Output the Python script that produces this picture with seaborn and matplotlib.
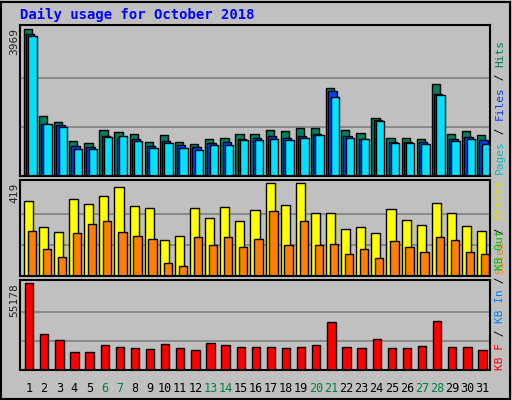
import matplotlib
matplotlib.use("Agg")
import matplotlib.pyplot as plt
import seaborn as sns
import numpy as np

days = list(range(1, 32))
hits = [3969,1636,1475,939,885,1234,1180,1126,912,1100,912,858,992,1019,1126,1126,1234,1207,1287,1287,2387,1234,1153,1582,1019,1019,992,2494,1126,1207,1100]
files = [3850,1420,1390,800,780,1080,1020,1000,800,950,840,780,900,920,1000,1020,1080,1040,1090,1130,2300,1080,1010,1520,930,930,910,2230,1000,1060,970]
pages = [3780,1420,1330,740,720,1050,1080,960,760,890,760,700,830,850,980,980,990,980,1020,1100,2150,1040,1010,1480,880,880,860,2200,960,1010,870]
visits = [336,221,198,345,322,359,400,313,304,161,180,304,262,308,249,295,419,318,419,281,285,212,221,193,299,253,230,327,281,226,203]
sites = [203,120,87,193,235,249,198,180,166,60,46,175,138,175,129,166,290,138,249,138,143,101,120,83,157,129,110,175,161,106,97]
kbytes = [55178,22456,19248,11549,11549,16040,14757,14115,13474,16682,14115,12832,17323,16040,14757,14757,14757,14115,14757,16040,30155,14757,14115,19890,14115,14115,15398,30797,14757,14757,12832]
weekend = [6,7,13,14,20,21,27,28]

sns.set_style("white")
plt.rcParams['font.family'] = ['DejaVu Sans Mono']
BG = '#c0c0c0'
fig = plt.figure(figsize=(5.12, 4.0), dpi=100, facecolor=BG)
W, H = 512, 400
def ax_at(x0, y0, x1, y1):
    return fig.add_axes([x0/W, 1-y1/H, (x1-x0)/W, (y1-y0)/H])

x = np.array(days)
panels = [(25, 176), (180, 276), (280, 370)]
axes = [ax_at(20, a, 490, b) for a, b in panels]
for ax, top in zip(axes, [3969, 419, 55178]):
    ax.set_facecolor(BG)
    ax.set_xlim(0.45, 31.55)
    ax.set_ylim(0, top*1.03)
    for f in (1/3, 2/3):
        ax.axhline(top*f, color='#808080', lw=1.2, zorder=0)
    ax.set_xticks([]); ax.set_yticks([])
    for s in ax.spines.values():
        s.set_color('black'); s.set_linewidth(1.5)

ek = dict(edgecolor='black', linewidth=1)
a1 = axes[0]
a1.bar(x-0.3, hits, 0.55, color='#00805c', align='edge', **ek)
a1.bar(x-0.15, files, 0.55, color='#0040ff', align='edge', **ek)
a1.bar(x, pages, 0.55, color='#00e0ff', align='edge', **ek)
a2 = axes[1]
a2.bar(x-0.3, visits, 0.6, color='#ffff00', align='edge', **ek)
a2.bar(x-0.05, sites, 0.55, color='#ff8000', align='edge', **ek)
a3 = axes[2]
a3.bar(x-0.22, kbytes, 0.55, color='#ff0000', align='edge', **ek)

for (a, b), lab in zip(panels, ['3969', '419', '55178']):
    fig.text(14/W, 1-(a+3)/H, lab, rotation=90, ha='center', va='top', fontsize=8)

for d in days:
    axes[2].text(d+0.05, -0.2, str(d), transform=axes[2].get_xaxis_transform(), ha='center', va='center',
                 fontsize=8.5, color='#008040' if d in weekend else 'black')

fig.text(20/W, 1-15/H, 'Daily usage for October 2018', color='#0000ff', fontsize=10, fontweight='bold', va='center')

FS = 8
STEP = 0.602 * FS * 100 / 72
def vlabel(parts, ybottom, xpx=500):
    y = ybottom
    for txt, col in parts:
        fig.text(xpx/W, 1-y/H, txt, rotation=90, color=col, fontsize=FS, ha='center', va='bottom')
        y -= STEP*len(txt)
vlabel([('Pages', '#00c0c0'), (' / ', 'black'), ('Files', '#0040ff'), (' / ', 'black'), ('Hits', '#00805c')], 174)
vlabel([('Sites', '#ff8000'), (' / ', 'black'), ('Visits', '#e0e000')], 274)
vlabel([('KB F', '#ff0000'), (' / ', 'black'), ('KB In', '#0080ff'), (' / ', 'black'), ('KB Out', '#00c000')], 370)

fig.patches.append(plt.Rectangle((1/W, 1/H), 1-3/W, 1-3/H, transform=fig.transFigure, fill=False, edgecolor='black', lw=1.5))
fig.savefig('out.png', dpi=100, facecolor=BG)
